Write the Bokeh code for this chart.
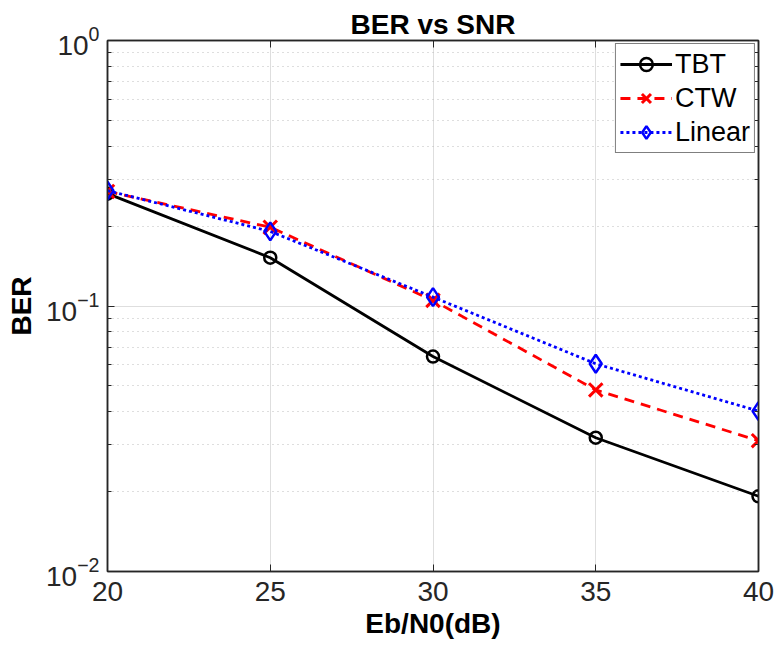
from bokeh.plotting import figure
from bokeh.models import FixedTicker, LinearAxis, LogAxis, Legend, LogTickFormatter
from bokeh.embed import file_html
from bokeh.resources import INLINE

snr = [20, 25, 30, 35, 40]
ber_tbt = [0.265, 0.152, 0.0645, 0.0319, 0.0192]
ber_ctw = [0.270, 0.198, 0.105, 0.0483, 0.0311]
ber_linear = [0.272, 0.191, 0.108, 0.0606, 0.0402]
x_ticks = [20, 25, 30, 35, 40]
y_ticks = [0.01, 0.1, 1.0]
y_minor = [m * d for d in (0.01, 0.1) for m in range(2, 10)]

FONT = "Liberation Sans"
AX = "#262626"

p = figure(width=775, height=657, output_backend="svg", toolbar_location=None,
           y_axis_type="log", x_range=(20, 40), y_range=(0.01, 1),
           min_border_left=107, min_border_right=17, min_border_top=40, min_border_bottom=86)
p.title.text = "BER vs SNR"
p.title.align = "center"
p.title.text_font = FONT
p.title.text_font_size = "28px"
p.title.text_font_style = "bold"
p.title.text_color = "black"
p.title.offset = 0
p.title.standoff = 2

p.outline_line_color = AX
p.outline_line_width = 1.5
p.background_fill_color = "white"
p.border_fill_color = "white"

# axes
p.xaxis.ticker = FixedTicker(ticks=x_ticks)
p.yaxis.ticker = FixedTicker(ticks=y_ticks, minor_ticks=y_minor)
p.yaxis.formatter = LogTickFormatter()
p.xaxis.axis_label = "Eb/N0(dB)"
p.yaxis.axis_label = "BER"
for ax in [p.xaxis[0], p.yaxis[0]]:
    ax.axis_label_text_font = FONT
    ax.axis_label_text_font_size = "28px"
    ax.axis_label_text_font_style = "bold"
    ax.axis_label_text_color = "black"
    ax.major_label_text_font = FONT
    ax.major_label_text_font_size = "28px"
    ax.major_label_text_color = AX
    ax.axis_line_color = AX
    ax.axis_line_width = 1.5
    ax.major_tick_in = 7
    ax.major_tick_out = 0
    ax.major_tick_line_color = AX
    ax.minor_tick_in = 4
    ax.minor_tick_out = 0
    ax.minor_tick_line_color = AX
p.xaxis.minor_tick_line_color = None
p.xaxis.major_label_standoff = 10
p.xaxis.axis_label_standoff = 4
p.yaxis.major_label_standoff = 8
p.yaxis.axis_label_standoff = 6

# box axes (top/right) with ticks only, no labels
top = LinearAxis(ticker=FixedTicker(ticks=x_ticks),
                 major_label_overrides={t: "" for t in x_ticks},
                 major_tick_in=7, major_tick_out=0, minor_tick_line_color=None,
                 axis_line_color=AX, axis_line_width=1.5, major_tick_line_color=AX,
                 major_label_standoff=0)
p.add_layout(top, "above")
right = LogAxis(ticker=FixedTicker(ticks=y_ticks, minor_ticks=y_minor),
                major_label_overrides={t: "" for t in y_ticks},
                major_tick_in=7, major_tick_out=0,
                minor_tick_in=4, minor_tick_out=0, axis_line_color=AX, axis_line_width=1.5,
                major_tick_line_color=AX, minor_tick_line_color=AX, major_label_standoff=0)
p.add_layout(right, "right")

# grids
p.xgrid.grid_line_color = "#dedede"
p.xgrid.grid_line_width = 1
p.ygrid.grid_line_color = "#dedede"
p.ygrid.grid_line_width = 1
p.ygrid.minor_grid_line_color = "#bdbdbd"
p.ygrid.minor_grid_line_dash = "1 4"
p.ygrid.minor_grid_line_width = 1

# series
l1 = p.line(snr, ber_tbt, line_color="black", line_width=2.8)
m1 = p.scatter(snr, ber_tbt, marker="circle", size=12, fill_color=None,
               line_color="black", line_width=2.5)
l2 = p.line(snr, ber_ctw, line_color="red", line_width=2.8, line_dash="10 7")
m2 = p.scatter(snr, ber_ctw, marker="x", size=19, line_color="red", line_width=3)
l3 = p.line(snr, ber_linear, line_color="blue", line_width=2.8, line_dash="3 3")
m3 = p.scatter(snr, ber_linear, marker="diamond", size=18, fill_color=None,
               line_color="blue", line_width=2.5)

legend = Legend(items=[("TBT", [l1, m1]), ("CTW", [l2, m2]), ("Linear", [l3, m3])],
                location="top_right")
legend.label_text_font = FONT
legend.label_text_font_size = "27px"
legend.label_text_color = "black"
legend.border_line_color = "black"
legend.border_line_width = 1.2
legend.background_fill_color = "white"
legend.background_fill_alpha = 1
legend.glyph_width = 52
legend.glyph_height = 32
legend.label_height = 32
legend.spacing = 2
legend.padding = 4
legend.margin = 3
legend.label_standoff = 3
p.add_layout(legend)

open("out.html", "w").write(file_html(p, INLINE))
